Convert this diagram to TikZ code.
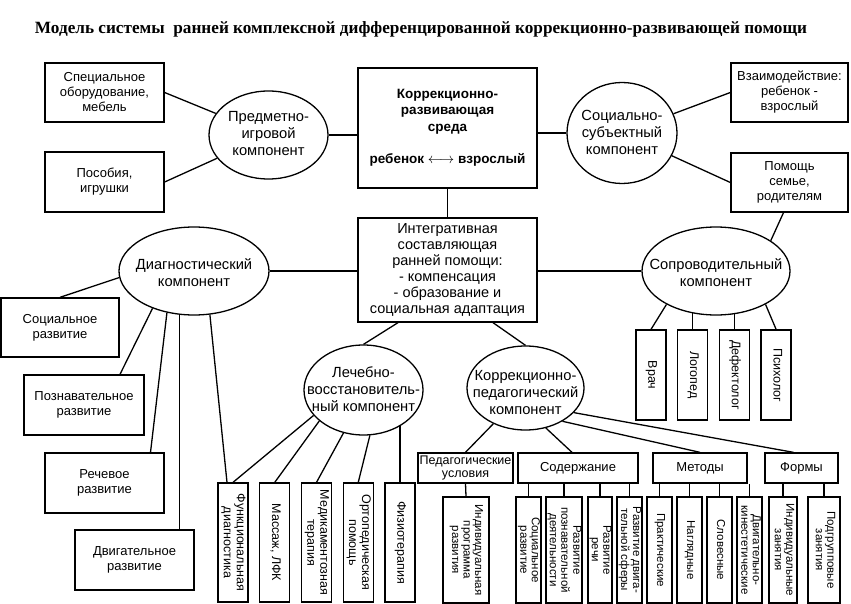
\documentclass[tikz,border=0pt]{standalone}
\usepackage{fontspec}
\setmainfont{Liberation Sans}
\newfontfamily\titlefont{Liberation Serif}
\usetikzlibrary{shapes.geometric}

\newcommand{\rottext}[1]{\rotatebox{-90}{\begin{tabular}{@{}c@{}}#1\end{tabular}}}
\newcommand{\ovaltext}[2][-5pt]{\smash{\makebox[0pt]{\raisebox{#1}{\begin{tabular}{@{}c@{}}#2\end{tabular}}}}}

\tikzset{
	box/.style={draw, align=center, inner sep=0pt, font=\fontsize{13}{15}\selectfont},
	oval/.style={draw, ellipse, inner sep=0pt, font=\fontsize{14.7}{17}\selectfont},
	vbox/.style={draw, inner sep=0pt, minimum width=30pt, font=\fontsize{12.5}{13}\selectfont},
	sbox/.style={draw, inner sep=0pt, minimum height=106pt, font=\fontsize{11.5}{11.5}\selectfont}
}

\begin{document}
\begin{tikzpicture}[x=1pt, y=-1pt, line width=1.3pt]
		\fill[white] (0,0) rectangle (851,604);
		\node (title) at (421,29) {\titlefont\bfseries\fontsize{17.2}{19}\selectfont Модель системы\ \ ранней комплексной дифференцированной коррекционно-развивающей помощи};
		\node (sreda) [box, minimum width=179pt, minimum height=120pt, font=\fontsize{13.5}{16.5}\selectfont\bfseries] at (447.5,128) {Коррекционно-\\развивающая\\среда\\[16pt]ребенок $\longleftrightarrow$ взрослый};
		\node (integr) [box, minimum width=179pt, minimum height=104pt, font=\fontsize{14.5}{16}\selectfont] at (447.5,270) {Интегративная\\составляющая\\ранней помощи:\\- компенсация\\- образование и\\социальная адаптация};
		\node (pred) [oval, minimum width=119pt, minimum height=88pt] at (268.5,135) {\ovaltext[-4pt]{Предметно-\\игровой\\компонент}};
		\node (spec) [box, minimum width=119pt, minimum height=59pt] at (104.5,92.5) {Специальное\\оборудование,\\мебель};
		\node (posob) [box, minimum width=119pt, minimum height=60pt] at (104.5,182) {Пособия,\\игрушки};
		\node (socsub) [oval, minimum width=110pt, minimum height=101pt] at (622,133) {\ovaltext{Социально-\\субъектный\\компонент}};
		\node (vzaim) [box, minimum width=117pt, minimum height=59pt] at (789.5,92.5) {Взаимодействие:\\ребенок -\\взрослый};
		\node (pomosh) [box, minimum width=117pt, minimum height=59pt] at (789.5,182.5) {Помощь\\семье,\\родителям};
		\node (diag) [oval, minimum width=150pt, minimum height=88pt] at (194,271) {\ovaltext[-7pt]{Диагностический\\компонент}};
		\node (socr) [box, minimum width=118pt, minimum height=59pt] at (60,327.5) {Социальное\\развитие};
		\node (pozn) [box, minimum width=120pt, minimum height=60pt] at (84,405) {Познавательное\\развитие};
		\node (rech) [box, minimum width=119pt, minimum height=60pt] at (104.5,483) {Речевое\\развитие};
		\node (dvig) [box, minimum width=119pt, minimum height=60pt] at (134.5,560) {Двигательное\\развитие};
		\node (sopr) [oval, minimum width=148pt, minimum height=88pt] at (716,271) {\ovaltext[-7pt]{Сопроводительный\\компонент}};
		\node (vrach) [vbox, minimum height=90pt] at (651,375) {\rottext{Врач}};
		\node (logo) [vbox, minimum height=90pt] [node distance = 41.7pt] [right of = vrach] {\rottext{Логопед}};
		\node (defe) [vbox, minimum height=90pt] [node distance = 41.7pt] [right of = logo] {\rottext{Дефектолог}};
		\node (psih) [vbox, minimum height=90pt] [node distance = 41.7pt] [right of = defe] {\rottext{Психолог}};
		\node (lech) [oval, minimum width=119pt, minimum height=90pt] at (363.5,390) {\ovaltext{Лечебно-\\восстановитель-\\ный компонент}};
		\node (func) [vbox, minimum height=119pt] at (233,542.5) {\rottext{Функциональная\\диагностика}};
		\node (mass) [vbox, minimum height=119pt] [node distance = 41.75pt] [right of = func] {\rottext{Массаж, ЛФК}};
		\node (medi) [vbox, minimum height=119pt] [node distance = 41.75pt] [right of = mass] {\rottext{Медикаментозная\\терапия}};
		\node (orto) [vbox, minimum height=119pt] [node distance = 41.75pt] [right of = medi] {\rottext{Ортопедическая\\помощь}};
		\node (fizi) [vbox, minimum height=119pt] [node distance = 41.75pt] [right of = orto] {\rottext{Физиотерапия}};
		\node (korped) [oval, minimum width=117pt, minimum height=84pt] at (525.5,388) {\ovaltext[-10pt]{Коррекционно-\\педагогический\\компонент}};
		\node (pedusl) [box, minimum width=95pt, minimum height=30pt, font=\fontsize{12.5}{13.5}\selectfont] at (465.5,468) {Педагогические\\условия};
		\node (soder) [box, minimum width=120pt, minimum height=30pt] at (578,468) {Содержание};
		\node (metod) [box, minimum width=94pt, minimum height=30pt] at (700,468) {Методы};
		\node (formy) [box, minimum width=73pt, minimum height=30pt] at (801.5,468) {Формы};
		\node (ipr) [sbox, minimum width=46pt] at (466,550) {\rottext{Индивидуальная\\программа\\развития}};
		\node (sr) [sbox, minimum width=25pt] at (528.5,550) {\rottext{Социальное\\развитие}};
		\node (rpd) [sbox, minimum width=36pt] at (564,550) {\rottext{Развитие\\познавательной\\деятельности}};
		\node (rr) [sbox, minimum width=24pt] at (600,550) {\rottext{Развитие\\речи}};
		\node (rds) [sbox, minimum width=25pt] at (629.5,550) {\rottext{Развитие двига-\\тельной сферы}};
		\node (prak) [sbox, minimum width=25pt] at (659.5,550) {\rottext{Практические}};
		\node (nagl) [sbox, minimum width=25pt] [node distance = 30pt] [right of = prak] {\rottext{Наглядные}};
		\node (slov) [sbox, minimum width=25pt] [node distance = 30pt] [right of = nagl] {\rottext{Словесные}};
		\node (dk) [sbox, minimum width=25pt] [node distance = 30pt] [right of = slov] {\rottext{Двигательно-\\кинестетические}};
		\node (iz) [sbox, minimum width=28pt] at (783,550) {\rottext{Индивидуальные\\занятия}};
		\node (pz) [sbox, minimum width=32pt] at (824,550) {\rottext{Подгрупповые\\занятия}};
		\path (pred) edge (spec.east);
		\path (pred) edge (posob.east);
		\path (pred.east) edge (pred.east -| sreda.west);
		\path (socsub.west) edge (socsub.west -| sreda.east);
		\path (socsub) edge (vzaim.west);
		\path (socsub) edge (pomosh.west);
		\path (sreda) edge (integr);
		\path (diag.east) edge (diag.east -| integr.west);
		\path (sopr.west) edge (sopr.west -| integr.east);
		\path ([xshift=-6pt]pomosh.south) edge (sopr.29);
		\path (diag.185) edge (socr.north);
		\path (diag.222) edge ([xshift=36pt]pozn.north);
		\path (diag.237) edge ([xshift=46pt]rech.north);
		\path (diag.252) edge (diag.252 |- dvig.north);
		\path (diag.290) edge ([xshift=-6pt]func.north);
		\path ([xshift=-49.5pt]integr.south) edge (lech.north);
		\path ([xshift=45.5pt]integr.south) edge (korped.north);
		\path (lech.207) edge (func.north);
		\path (lech.215) edge (mass.north);
		\path (lech.245) edge (medi.north);
		\path (lech.278) edge (orto.north);
		\path (fizi.north) edge (fizi.north |- lech.316);
		\path (sopr.214) edge (vrach.north);
		\path (logo.north) edge (logo.north |- sopr.241);
		\path (defe.north) edge (defe.north |- sopr.293);
		\path (sopr.326) edge (psih.north);
		\path (korped.228) edge (pedusl.north);
		\path (korped.297) edge ([xshift=-6pt]soder.north);
		\path (korped.318) edge (metod.north);
		\path (korped.333) edge ([xshift=-8pt]formy.north);
		\path (pedusl.south) edge (ipr.north);
		\path (sr.north) edge (sr.north |- soder.south);
		\path (rpd.north) edge (rpd.north |- soder.south);
		\path (rr.north) edge (rr.north |- soder.south);
		\path (rds.north) edge (rds.north |- soder.south);
		\path (prak.north) edge (prak.north |- metod.south);
		\path (nagl.north) edge (nagl.north |- metod.south);
		\path (slov.north) edge (slov.north |- metod.south);
		\path (dk.north) edge (dk.north |- metod.south);
		\path (iz.north) edge (iz.north |- formy.south);
		\path (pz.north) edge (pz.north |- formy.south);
\end{tikzpicture}
\end{document}
